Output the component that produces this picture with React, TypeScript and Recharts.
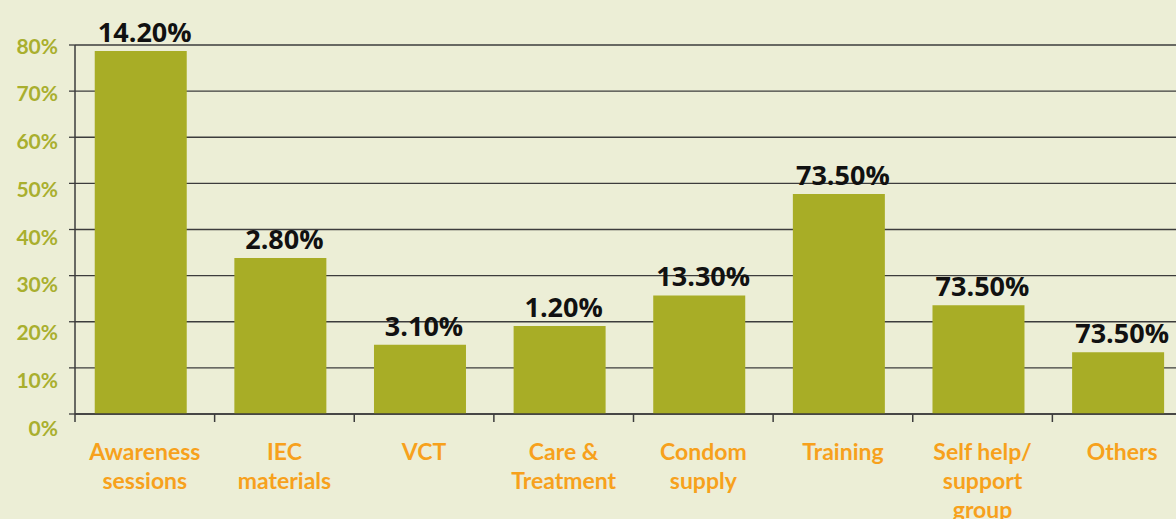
import React from 'react';
import { BarChart, Bar, XAxis, YAxis, CartesianGrid, LabelList, Rectangle } from 'recharts';

const categories = [
  'Awareness\nsessions',
  'IEC\nmaterials',
  'VCT',
  'Care &\nTreatment',
  'Condom\nsupply',
  'Training',
  'Self help/\nsupport\ngroup',
  'Others',
];
const values = [78.7, 33.8, 15.0, 19.1, 25.7, 47.7, 23.6, 13.4];
const valueLabels = ['14.20%', '2.80%', '3.10%', '1.20%', '13.30%', '73.50%', '73.50%', '73.50%'];
const yTicks = [0, 10, 20, 30, 40, 50, 60, 70, 80];

const data = categories.map((name, i) => ({ name, value: values[i], label: valueLabels[i] }));

const CHART_W = 1192;
const CHART_H = 519;
const Y_W = 75;
const BAND = (CHART_W - Y_W) / categories.length;
const BAR_SHIFT = -4;

const BG = '#ECEED6';
const BAR = '#A8AD26';
const AXIS_TEXT = '#A9AF2E';
const CAT_TEXT = '#F7A11C';
const GRID = '#3c3c3c';

function YTick({ x, y, payload }: any) {
  // labels in the source drift a little lower towards the bottom
  const shift = (1 - payload.value / 80) * 13;
  return (
    <text x={x} y={y + shift} textAnchor="end" dominantBaseline="central"
      fill={AXIS_TEXT} fontSize={21} fontWeight={700} fontFamily="Lato, 'Open Sans', sans-serif">
      {payload.value}%
    </text>
  );
}

function XTick({ x, y, payload }: any) {
  const lines = String(payload.value).split('\n');
  const left = x - BAND / 2;
  return (
    <g>
      <line x1={left} y1={y} x2={left} y2={y + 8} stroke={GRID} strokeWidth={1.5} />
      <text x={x} y={y + 46} textAnchor="middle" fill={CAT_TEXT} fontSize={23}
        fontWeight={700} fontFamily="Lato, 'Open Sans', sans-serif">
        {lines.map((l, i) => (
          <tspan key={i} x={x} dy={i === 0 ? 0 : 29}>{l}</tspan>
        ))}
      </text>
    </g>
  );
}

function ShiftedBar(props: any) {
  return <Rectangle {...props} x={props.x + BAR_SHIFT} />;
}

export default function App() {
  return (
    <div style={{ position: 'absolute', top: 0, left: 0, width: 1176, height: 519, overflow: 'hidden', background: BG }}>
      <BarChart width={CHART_W} height={CHART_H} data={data}
        margin={{ top: 45, right: 0, left: 0, bottom: 0 }} barCategoryGap="17%">
        <CartesianGrid horizontal vertical={false} stroke={GRID} strokeWidth={1.3} />
        <XAxis dataKey="name" interval={0} height={105} tickSize={0} tickMargin={0}
          tickLine={false} axisLine={{ stroke: GRID, strokeWidth: 1.5 }} tick={<XTick />} />
        <YAxis width={Y_W} domain={[0, 80]} ticks={yTicks} tickSize={6} tickMargin={11}
          tickLine={{ stroke: GRID, strokeWidth: 1.3 }} axisLine={{ stroke: GRID, strokeWidth: 1.5 }}
          tick={<YTick />} />
        <Bar dataKey="value" fill={BAR} isAnimationActive={false} shape={<ShiftedBar />}>
          <LabelList dataKey="label" position="top" offset={9} fill="#111"
            fontSize={27} fontWeight={700} fontFamily="'Open Sans', sans-serif" />
        </Bar>
      </BarChart>
    </div>
  );
}
